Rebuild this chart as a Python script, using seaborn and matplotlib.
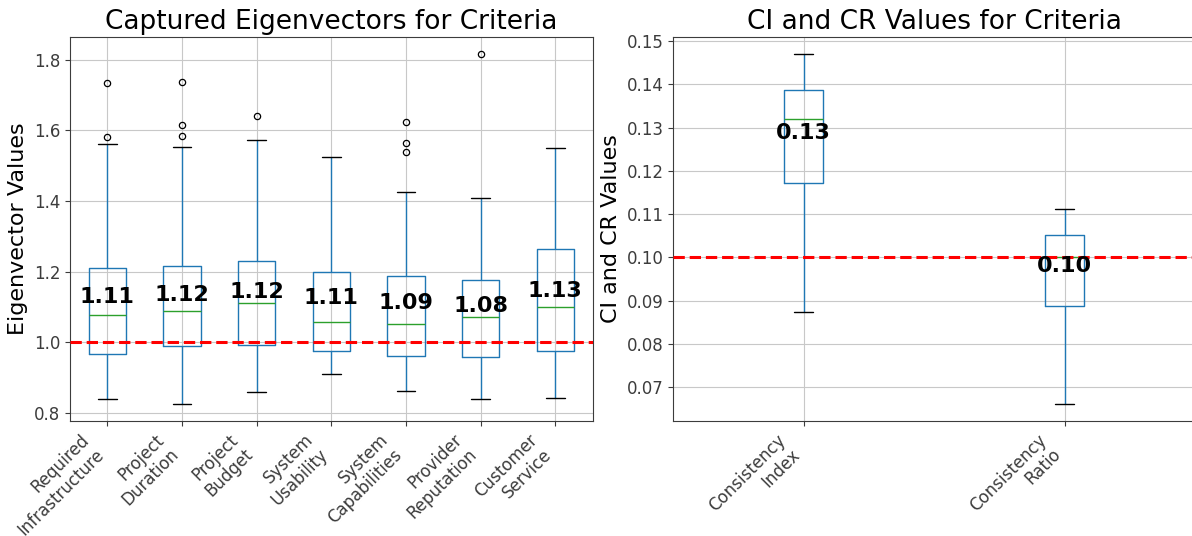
import numpy as np
import pandas as pd
import matplotlib
matplotlib.use("Agg")
import matplotlib.pyplot as plt
import seaborn as sns

# ---------------- data ----------------
criteria = ["Required\nInfrastructure", "Project\nDuration", "Project\nBudget",
            "System\nUsability", "System\nCapabilities", "Provider\nReputation",
            "Customer\nService"]
crit_whislo = [0.8375, 0.826, 0.860, 0.9084, 0.862, 0.8375, 0.8413]
crit_q1 = [0.967, 0.988, 0.9915, 0.9736, 0.960, 0.9584, 0.9745]
crit_median = [1.0765, 1.0878, 1.1096, 1.0567, 1.051, 1.0708, 1.0992]
crit_q3 = [1.210, 1.215, 1.2295, 1.1993, 1.186, 1.1747, 1.2626]
crit_whishi = [1.561, 1.553, 1.5724, 1.5242, 1.425, 1.408, 1.5497]
crit_outliers = [[1.580, 1.734], [1.584, 1.616, 1.736], [1.641], [],
                 [1.538, 1.565, 1.623], [1.815], []]
crit_means = [1.110, 1.116, 1.124, 1.108, 1.094, 1.084, 1.127]

consistency = ["Consistency\nIndex", "Consistency\nRatio"]
cons_whislo = [0.08737, 0.0662]
cons_q1 = [0.1171, 0.0888]
cons_median = [0.1319, 0.1000]
cons_q3 = [0.13875, 0.1051]
cons_whishi = [0.1469, 0.11125]
cons_outliers = [[], []]
cons_means = [0.1287, 0.0980]

eig_threshold = 1.0
cr_threshold = 0.10


def sample_from_summary(lo, q1, med, q3, hi, outliers):
    """17 observations whose linear-interpolated quartiles equal q1/med/q3
    and whose 1.5*IQR whiskers end at lo/hi (values read from the chart)."""
    upper = [hi] + list(outliers)
    upper += [hi] * (4 - len(upper))
    return [lo] + [q1] * 4 + [med] * 4 + [q3] * 4 + upper


def long_frame(names, lo, q1, med, q3, hi, outl):
    rows = []
    for i, n in enumerate(names):
        for v in sample_from_summary(lo[i], q1[i], med[i], q3[i], hi[i], outl[i]):
            rows.append((n, v))
    return pd.DataFrame(rows, columns=["criterion", "value"])


df_eig = long_frame(criteria, crit_whislo, crit_q1, crit_median, crit_q3,
                    crit_whishi, crit_outliers)
df_con = long_frame(consistency, cons_whislo, cons_q1, cons_median, cons_q3,
                    cons_whishi, cons_outliers)

# ---------------- style ----------------
sns.set_style("white", rc={
    "axes.edgecolor": "#3c3c3c",
    "axes.linewidth": 1.0,
    "axes.grid": True,
    "grid.color": "#c8c8c8",
    "grid.linewidth": 1.0,
    "xtick.bottom": True,
    "ytick.left": True,
    "xtick.major.size": 4,
    "ytick.major.size": 4,
    "xtick.color": "#3c3c3c",
    "ytick.color": "#3c3c3c",
    "xtick.labelcolor": "black",
    "ytick.labelcolor": "black",
    "text.color": "black",
    "axes.labelcolor": "black",
})
plt.rcParams["font.family"] = ["DejaVu Sans"]

C0, C2 = "#1f77b4", "#2ca02c"
box_kw = dict(
    fill=False, color=C0, saturation=1, linewidth=1.0,
    medianprops=dict(color=C2, linewidth=1.0),
    whiskerprops=dict(color=C0, linewidth=1.0),
    capprops=dict(color="black", linewidth=1.0),
    boxprops=dict(color=C0, linewidth=1.0),
    flierprops=dict(marker="o", markerfacecolor="none",
                    markeredgecolor="black", markersize=4.5,
                    markeredgewidth=0.9),
)

W, H = 1192, 536
fig = plt.figure(figsize=(W / 100, H / 100), dpi=100)
ax1 = fig.add_axes([70 / W, (H - 421) / H, 522.7 / W, 384 / H])
ax2 = fig.add_axes([673.3 / W, (H - 421) / H, 521.7 / W, 384 / H])

# ---------------- left panel ----------------
sns.boxplot(data=df_eig, x="criterion", y="value", order=criteria,
            width=0.5, ax=ax1, **box_kw)
ax1.axhline(eig_threshold, color="red", linestyle="--", linewidth=2.2, zorder=3)
for i, m in enumerate(crit_means):
    ax1.text(i, m, f"{m:.2f}", ha="center", va="baseline",
             fontsize=16, fontweight="bold", zorder=4)
ax1.set_xlim(-0.5, len(criteria) - 0.5)
ax1.grid(True, axis="both")
ax1.set_title("Captured Eigenvectors for Criteria", fontsize=19)
ax1.set_ylabel("Eigenvector Values", fontsize=16)
ax1.set_xlabel("")
ax1.set_xticks(range(len(criteria)))
ax1.set_xticklabels(criteria, rotation=45, ha="right", fontsize=12)
ax1.tick_params(axis="y", labelsize=12)

# ---------------- right panel ----------------
sns.boxplot(data=df_con, x="criterion", y="value", order=consistency,
            width=0.148, ax=ax2, **box_kw)
ax2.axhline(cr_threshold, color="red", linestyle="--", linewidth=2.2, zorder=3)
for i, m in enumerate(cons_means):
    ax2.text(i, m, f"{m:.2f}", ha="center", va="center",
             fontsize=16, fontweight="bold", zorder=4)
ax2.set_xlim(-0.5, len(consistency) - 0.5)
ax2.grid(True, axis="both")
ax2.set_title("CI and CR Values for Criteria", fontsize=19)
ax2.set_ylabel("CI and CR Values", fontsize=16)
ax2.set_xlabel("")
ax2.set_xticks(range(len(consistency)))
ax2.set_xticklabels(consistency, rotation=45, ha="right", fontsize=12)
ax2.tick_params(axis="y", labelsize=12)

fig.savefig("out.png", dpi=100)
